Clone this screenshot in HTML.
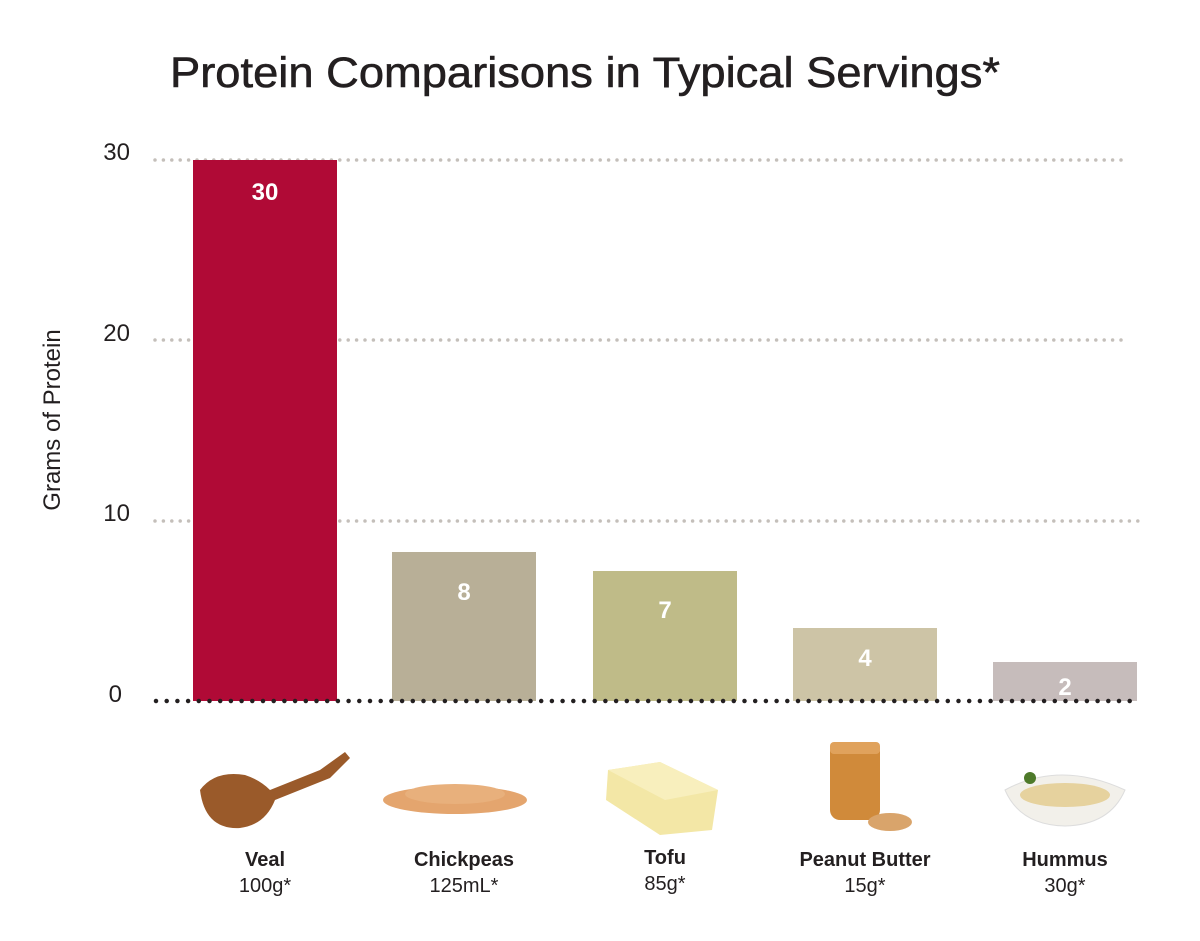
<!DOCTYPE html>
<html><head><meta charset="utf-8"><style>
html,body{margin:0;padding:0;background:#fff;}
svg{display:block;}
</style></head><body>
<svg width="1200" height="941" viewBox="0 0 1200 941" xmlns="http://www.w3.org/2000/svg" font-family="Liberation Sans, sans-serif">
<text x="170" y="87" textLength="830" lengthAdjust="spacingAndGlyphs" font-size="43" fill="#231f20" stroke="#231f20" stroke-width="0.6">Protein Comparisons in Typical Servings*</text>
<g fill="#231f20" font-size="24" text-anchor="end">
<text x="130" y="160">30</text>
<text x="130" y="341">20</text>
<text x="130" y="521">10</text>
<text x="122" y="702">0</text>
</g>
<text transform="translate(60,420) rotate(-90)" text-anchor="middle" font-size="24" fill="#231f20">Grams of Protein</text>
<g stroke="#c4bfba" stroke-width="3.5" stroke-linecap="round" stroke-dasharray="0 8.4">
<line x1="155" y1="160" x2="1125" y2="160"/>
<line x1="155" y1="340" x2="1125" y2="340"/>
<line x1="155" y1="521" x2="1145" y2="521"/>
</g>
<rect x="193" y="160" width="144" height="541" fill="#b00a36"/>
<rect x="392" y="552" width="144" height="149" fill="#b8af97"/>
<rect x="593" y="571" width="144" height="130" fill="#bfbb88"/>
<rect x="793" y="628" width="144" height="73" fill="#cdc4a6"/>
<rect x="993" y="662" width="144" height="39" fill="#c6bcbb"/>
<line x1="156" y1="701" x2="1140" y2="701" stroke="#231f20" stroke-width="4.5" stroke-linecap="round" stroke-dasharray="0 10.7"/>
<g fill="#fff" font-weight="bold" font-size="24" text-anchor="middle">
<text x="265" y="200">30</text>
<text x="464" y="600">8</text>
<text x="665" y="618">7</text>
<text x="865" y="666">4</text>
<text x="1065" y="695">2</text>
</g>
<path d="M200 790 Q215 770 245 775 Q260 780 270 790 L320 770 L345 752 L350 758 L330 778 L275 800 Q265 825 240 828 Q205 830 200 790Z" fill="#9a5a2a"/>
<ellipse cx="455" cy="800" rx="72" ry="14" fill="#e4a56e"/>
<ellipse cx="455" cy="794" rx="50" ry="10" fill="#e8b07c"/>
<path d="M608 770 L660 762 L718 790 L712 830 L660 835 L606 800Z" fill="#f3e7a6"/>
<path d="M608 770 L660 762 L718 790 L665 800Z" fill="#f8efbd"/>
<rect x="830" y="742" width="50" height="78" rx="10" fill="#d08a3a"/>
<rect x="830" y="742" width="50" height="12" rx="4" fill="#e0a25c"/>
<ellipse cx="890" cy="822" rx="22" ry="9" fill="#d9a46b"/>
<path d="M1005 790 Q1060 760 1125 790 Q1110 825 1065 826 Q1020 825 1005 790Z" fill="#f2f0ea" stroke="#ddd"/>
<ellipse cx="1065" cy="795" rx="45" ry="12" fill="#e6d29e"/>
<circle cx="1030" cy="778" r="6" fill="#4e7a2a"/>
<g text-anchor="middle" fill="#231f20">
<text x="265" y="866" font-size="20" font-weight="bold">Veal</text>
<text x="265" y="892" font-size="20">100g*</text>
<text x="464" y="866" font-size="20" font-weight="bold">Chickpeas</text>
<text x="464" y="892" font-size="20">125mL*</text>
<text x="665" y="864" font-size="20" font-weight="bold">Tofu</text>
<text x="665" y="890" font-size="20">85g*</text>
<text x="865" y="866" font-size="20" font-weight="bold">Peanut Butter</text>
<text x="865" y="892" font-size="20">15g*</text>
<text x="1065" y="866" font-size="20" font-weight="bold">Hummus</text>
<text x="1065" y="892" font-size="20">30g*</text>
</g>
</svg>
</body></html>
